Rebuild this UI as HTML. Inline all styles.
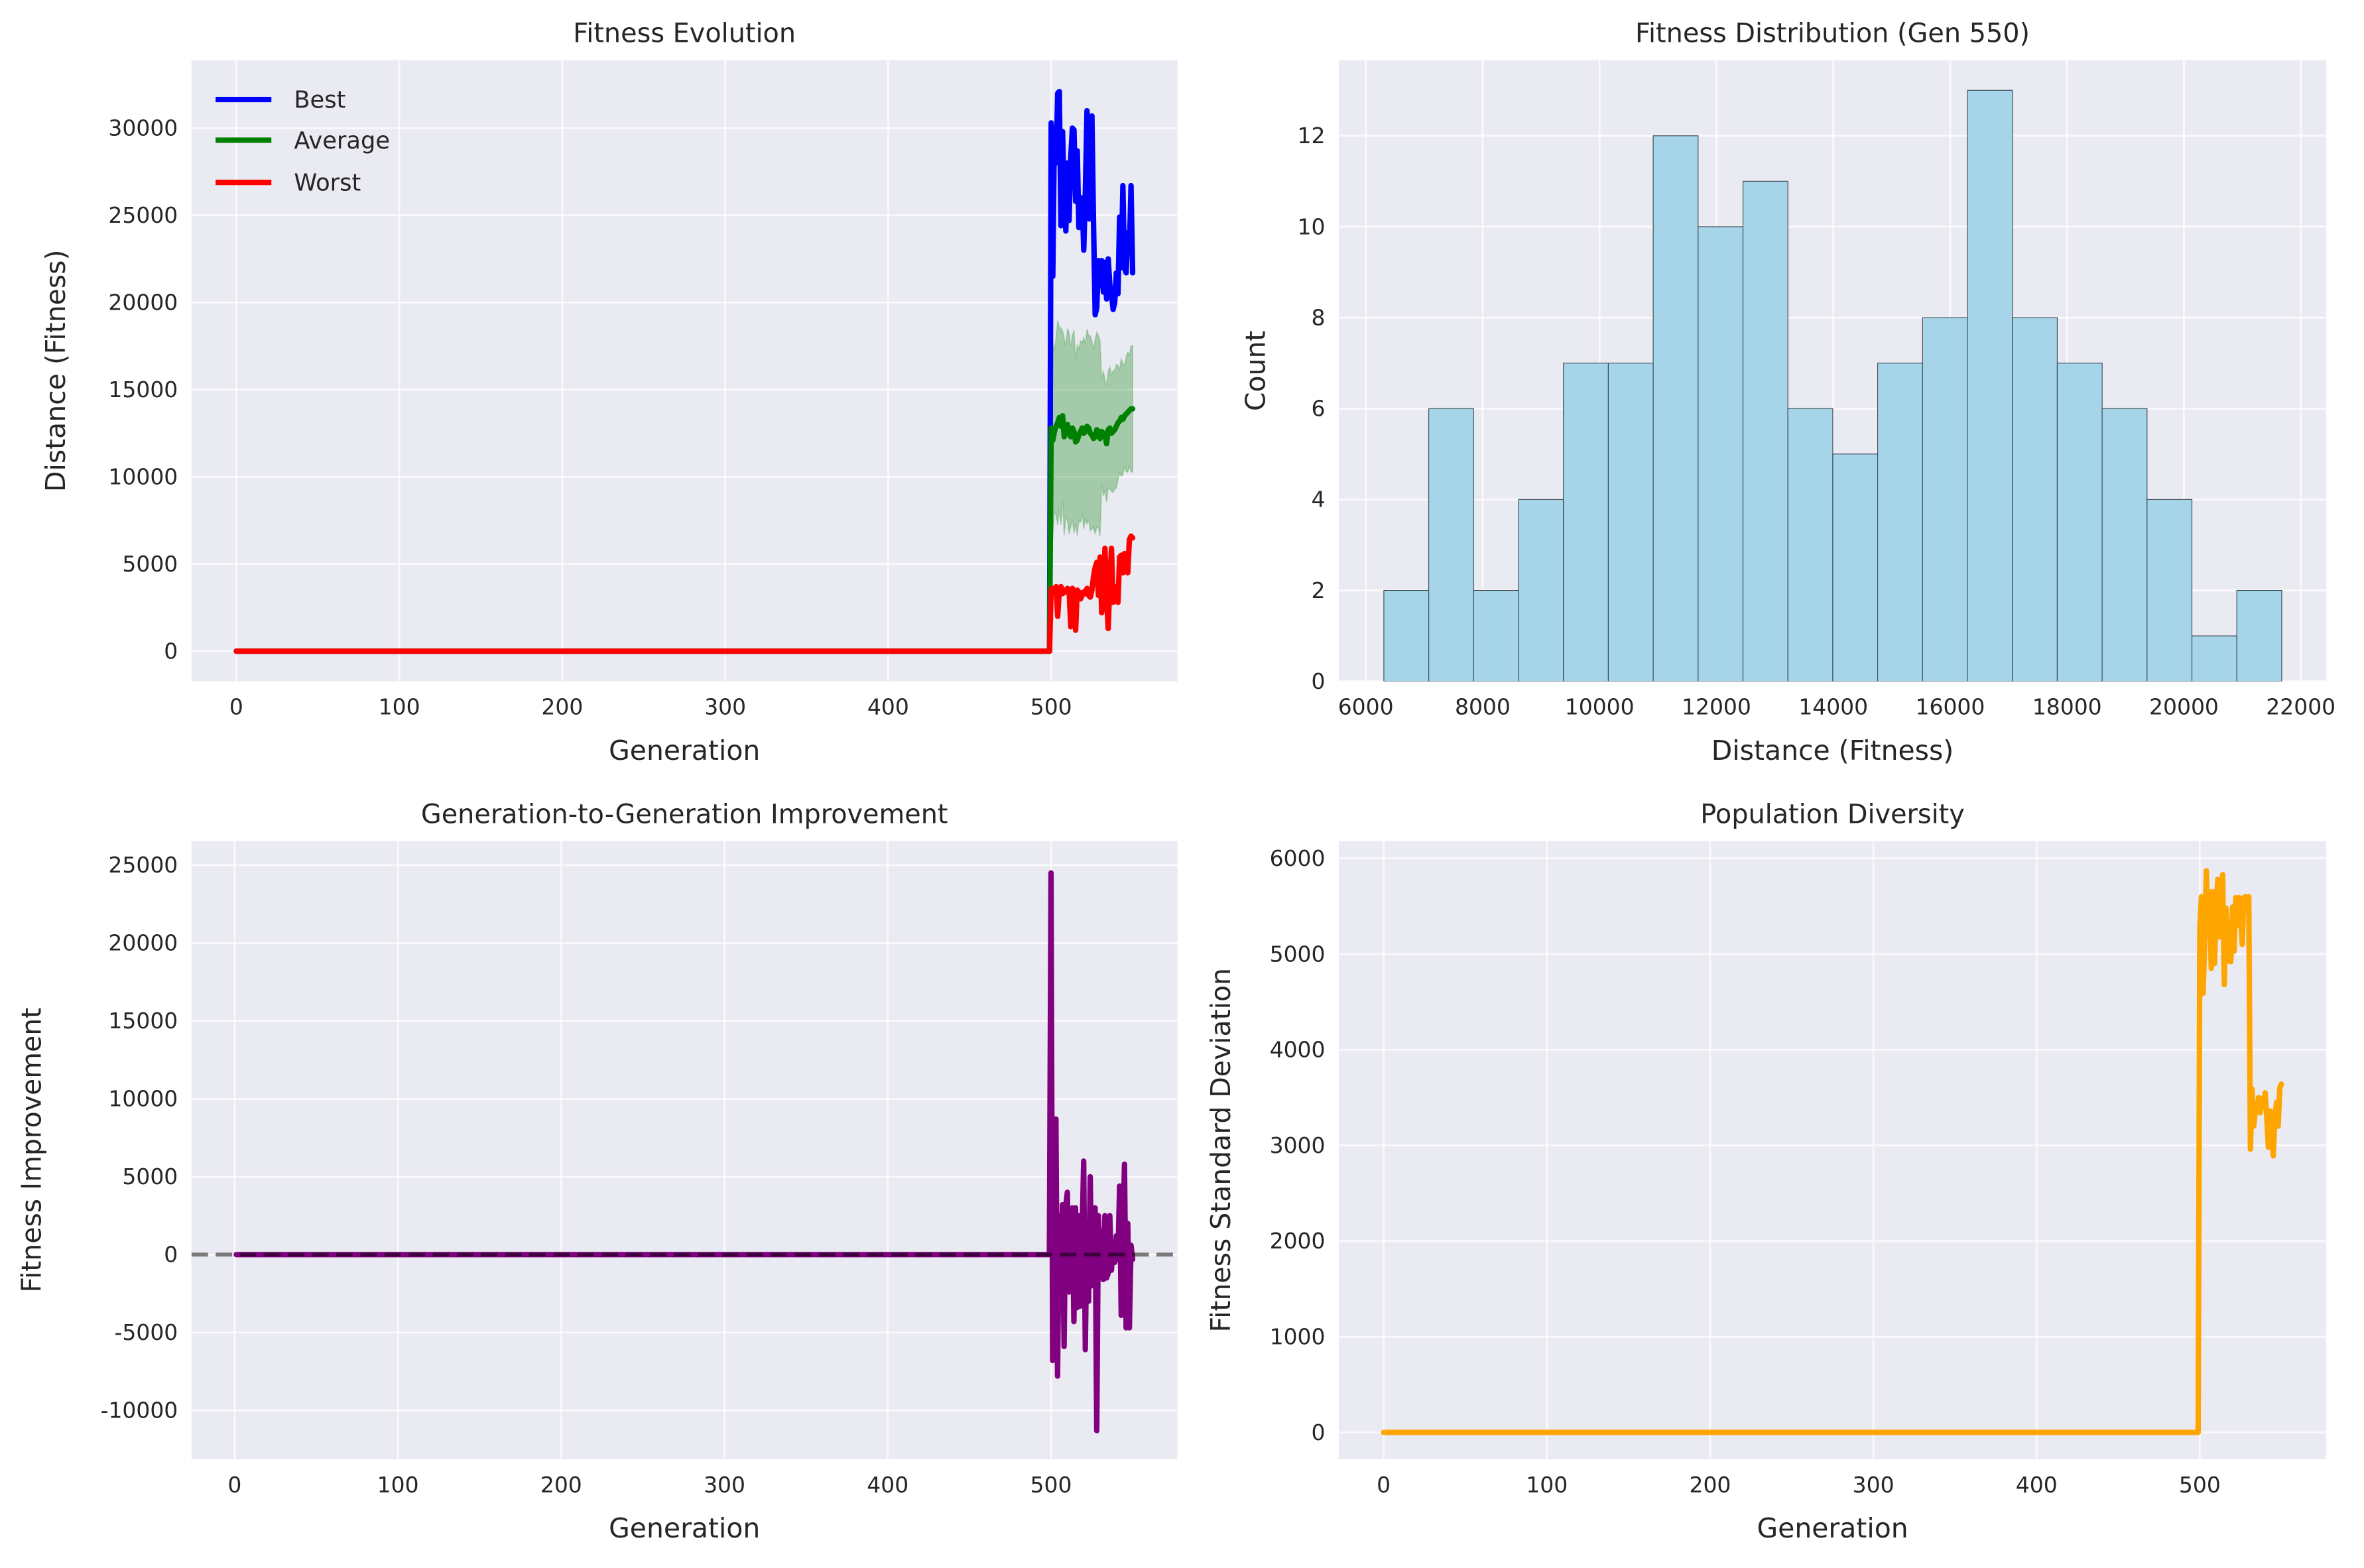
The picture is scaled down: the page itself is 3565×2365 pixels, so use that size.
<!DOCTYPE html>
<html><head><meta charset="utf-8">
<style>
html,body{margin:0;padding:0;background:#fff;}
svg{display:block;font-family:"DejaVu Sans","Liberation Sans",sans-serif;}
</style></head>
<body>
<svg id="fig" width="3565" height="2365" viewBox="0 0 1568 1040.2" preserveAspectRatio="none" xmlns="http://www.w3.org/2000/svg"></svg>
<script>
// ---- data ----
const lateStartGen = 500;
const lastGen = 550;
const bestLate = [30300,21500,30000,28000,32000,32100,24400,29800,26000,24100,28000,24700,28300,30000,29900,25800,28700,24300,26000,26000,23000,26500,31000,24800,24800,30700,24500,19300,19700,22400,21000,22400,20600,22300,20200,22500,21000,20500,19600,20000,21700,20500,24900,22000,26700,22000,21700,24000,23000,26700,21700];
const avgLate = [12800,12100,12600,12900,13100,13400,12900,13500,12300,12600,13000,12500,12300,12800,12600,12000,12100,12400,12600,12800,12500,12600,12900,12800,12500,12400,12200,12300,12700,12600,12200,12600,12500,12400,11900,12700,12800,12500,12600,12700,12900,13100,13200,13400,13300,13500,13600,13700,13800,13900,13900];
const worstLate = [3560,3600,3400,3700,2000,3500,3700,3300,3500,3400,3600,3500,1400,3600,3300,1200,3500,3400,3000,3200,3400,3300,3600,3200,3100,3500,4300,4800,5100,3200,5400,2200,3000,5900,3100,1300,4000,5900,2800,3300,3700,2800,5400,5500,4500,5600,5500,4500,6400,6600,6500];
const stdLate = [5270,5600,4590,5100,5870,5200,5650,4850,5650,4900,5500,5780,5180,5300,5830,4680,5480,4930,5200,4920,5490,5030,5590,5300,5590,5400,5100,5590,5600,5500,5600,2960,3590,3200,3350,3360,3500,3340,3490,3400,3550,3300,2980,3360,3200,2890,3300,3450,3200,3600,3640];
const improveLate = [24500,-6800,3000,8700,-7800,2500,-1000,3200,-5900,3100,4000,-2400,1500,3000,-4300,3000,-3400,2500,-3300,1000,6000,-6100,2000,-3000,5000,-2000,1000,3000,-11300,2500,-800,1500,-1600,2500,-1500,-1200,2500,-1000,700,-500,1200,-300,4400,-3900,1000,5800,-4700,2000,-4700,600,-300];
const earlyValue = 0; // all series flat at 0 before generation 500
const histCounts = [2,6,2,4,7,7,12,10,11,6,5,7,8,13,8,7,6,4,1,2];
const histMin = 6309;
const histMax = 21673;
const genTicks = [0,100,200,300,400,500];
const fitTicks = [0,5000,10000,15000,20000,25000,30000];
const histXTicks = [6000,8000,10000,12000,14000,16000,18000,20000,22000];
const histYTicks = [0,2,4,6,8,10,12];
const impTicks = [-10000,-5000,0,5000,10000,15000,20000,25000];
const stdTicks = [0,1000,2000,3000,4000,5000,6000];

// ---- helpers ----
const NS = "http://www.w3.org/2000/svg";
const svg = document.getElementById('fig');
const TICK_FS = 14.5, LABEL_FS = 18, TITLE_FS = 17.5;
function mk(tag, attrs, parent){
  const e = document.createElementNS(NS, tag);
  for (const k in attrs) e.setAttribute(k, attrs[k]);
  (parent||svg).appendChild(e);
  return e;
}
function scale(d0,d1,r0,r1){ return v => r0 + (v-d0)/(d1-d0)*(r1-r0); }
function fullSeries(late){
  const out=[];
  for(let g=0; g<=lastGen; g++){
    out.push(g<lateStartGen ? earlyValue : late[g-lateStartGen]);
  }
  return out;
}

function makeAxes(name, box, xd, yd, xticks, yticks, title, xlabel, ylabel, ylabX){
  const g = mk('g',{});
  
  
  const bg = mk('rect',{x:box.l,y:box.t,width:box.r-box.l,height:box.b-box.t,fill:'#eaeaf2'},g);
  
  
  const X = scale(xd[0],xd[1],box.l,box.r), Y = scale(yd[0],yd[1],box.b,box.t);
  xticks.forEach(t=>{
    const x=X(t);
    mk('line',{x1:x,x2:x,y1:box.t,y2:box.b,stroke:'#ffffff','stroke-width':1.2,'stroke-opacity':0.75},g);
    const tx = mk('text',{x:x,y:box.b+22,'text-anchor':'middle','font-size':TICK_FS,fill:'#262626'},g);
    tx.textContent = t;
    
    
  });
  yticks.forEach(t=>{
    const y=Y(t);
    mk('line',{x1:box.l,x2:box.r,y1:y,y2:y,stroke:'#ffffff','stroke-width':1.2,'stroke-opacity':0.75},g);
    const ty = mk('text',{x:box.l-9,y:y+5,'text-anchor':'end','font-size':TICK_FS,fill:'#262626'},g);
    ty.textContent = t;
    
    
  });
  const tt = mk('text',{x:(box.l+box.r)/2,y:box.t-12,'text-anchor':'middle','font-size':TITLE_FS,fill:'#262626'},g);
  tt.textContent = title;
  
  
  const xl = mk('text',{x:(box.l+box.r)/2,y:box.b+52,'text-anchor':'middle','font-size':LABEL_FS,fill:'#262626'},g);
  xl.textContent = xlabel;
  
  
  const cy=(box.t+box.b)/2;
  const yl = mk('text',{x:ylabX,y:cy,'text-anchor':'middle','font-size':LABEL_FS,fill:'#262626',transform:`rotate(-90 ${ylabX} ${cy})`},g);
  yl.textContent = ylabel;
  
  
  const clipId = name+'-clip';
  const cp = mk('clipPath',{id:clipId},g);
  mk('rect',{x:box.l,y:box.t,width:box.r-box.l,height:box.b-box.t},cp);
  const plot = mk('g',{'clip-path':`url(#${clipId})`},g);
  return {X,Y,plot,g};
}
function polyline(ax, xs, ys, color, w, name){
  const pts = xs.map((x,i)=>ax.X(x).toFixed(2)+','+ax.Y(ys[i]).toFixed(2)).join(' ');
  const p = mk('polyline',{points:pts,fill:'none',stroke:color,'stroke-width':w,'stroke-linejoin':'round','stroke-linecap':'round'},ax.plot);
  
  
  return p;
}

const gens = []; for(let g=0; g<=lastGen; g++) gens.push(g);
const best = fullSeries(bestLate), avg = fullSeries(avgLate), worst = fullSeries(worstLate), std = fullSeries(stdLate);
const genDomain = [-27.5, 577.5];

// ---- panel 1: fitness evolution ----
const a1 = makeAxes('fitness-evolution-chart',{l:127,r:781,t:40,b:452},genDomain,[-1730,33890],genTicks,fitTicks,'Fitness Evolution','Generation','Distance (Fitness)',43);
{
  const up = gens.map((g,i)=>a1.X(g).toFixed(2)+','+a1.Y(avg[i]+std[i]).toFixed(2));
  const dn = gens.map((g,i)=>a1.X(g).toFixed(2)+','+a1.Y(avg[i]-std[i]).toFixed(2)).reverse();
  const band = mk('polygon',{points:up.concat(dn).join(' '),fill:'#008000','fill-opacity':0.3,stroke:'#008000','stroke-opacity':0.2,'stroke-width':0.8},a1.plot);
  
  
  polyline(a1, gens, best, '#0000ff', 3.6, 'best-line');
  polyline(a1, gens, avg, '#008000', 3.6, 'average-line');
  polyline(a1, gens, worst, '#ff0000', 3.6, 'worst-line');
  const legend = mk('g',{},a1.g);
  
  
  [['Best','#0000ff',66],['Average','#008000',93],['Worst','#ff0000',121]].forEach(([lbl,c,y])=>{
    const e = mk('g',{},legend);
    
    
    mk('line',{x1:143,x2:180,y1:y,y2:y,stroke:c,'stroke-width':3.6},e);
    const t = mk('text',{x:195,y:y+5.5,'font-size':15.5,fill:'#262626'},e);
    t.textContent = lbl;
  });
}

// ---- panel 2: histogram ----
const a2 = makeAxes('fitness-distribution-chart',{l:888,r:1543,t:40,b:452},[5538,22436],[0,13.66],histXTicks,histYTicks,'Fitness Distribution (Gen 550)','Distance (Fitness)','Count',839);
{
  const bw = (histMax-histMin)/histCounts.length;
  histCounts.forEach((c,i)=>{
    const x0=a2.X(histMin+i*bw), x1=a2.X(histMin+(i+1)*bw), y=a2.Y(c), y0=a2.Y(0);
    const r = mk('rect',{x:x0,y:y,width:x1-x0,height:y0-y,fill:'#a6d5ea',stroke:'#3a4a50','stroke-width':0.5},a2.plot);
    
    
  });
}

// ---- panel 3: improvement ----
const a3 = makeAxes('improvement-chart',{l:127,r:781,t:558,b:968},[-26.45,577.45],[-13130,26540],genTicks,impTicks,'Generation-to-Generation Improvement','Generation','Fitness Improvement',27);
{
  const ig=[], iv=[];
  for(let g=1; g<=lastGen; g++){ ig.push(g); iv.push(g<lateStartGen?earlyValue:improveLate[g-lateStartGen]); }
  polyline(a3, ig, iv, '#800080', 3.6, 'improvement-line');
  const y0 = a3.Y(0);
  const z = mk('line',{x1:127,x2:781,y1:y0,y2:y0,stroke:'#000000','stroke-opacity':0.5,'stroke-width':2.6,'stroke-dasharray':'11 5'},a3.plot);
  
  
}

// ---- panel 4: diversity ----
const a4 = makeAxes('population-diversity-chart',{l:888,r:1543,t:558,b:968},genDomain,[-280,6180],genTicks,stdTicks,'Population Diversity','Generation','Fitness Standard Deviation',816);
polyline(a4, gens, std, '#ffa500', 3.6, 'diversity-line');
</script>
</body></html>
